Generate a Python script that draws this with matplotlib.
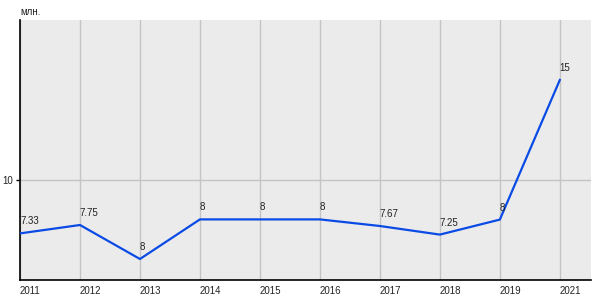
import matplotlib.pyplot as plt
import numpy as np

plt.rcParams['font.family'] = ['Liberation Sans', 'DejaVu Sans']

years = ['2011', '2012', '2013', '2014', '2015', '2016', '2017', '2018', '2019', '2021']
values = [7.33, 7.75, 6.05, 8.03, 8.03, 8.03, 7.7, 7.27, 8.02, 15]
point_labels = ['7.33', '7.75', '8', '8', '8', '8', '7.67', '7.25', '8', '15']

fig = plt.figure(figsize=(6, 3), dpi=100)
ax = fig.add_axes([20/600, 20/300, 571/600, 260/300])
ax.set_facecolor('#ebebeb')

xs = np.arange(len(years))
ax.plot(xs, values, color='#0a4be6', lw=1.6, zorder=3)
for x, v, lab in zip(xs, values, point_labels):
    ax.annotate(lab, (x, v), xytext=(0, 5), textcoords='offset points',
                ha='left', va='bottom', fontsize=7, color='#222222', zorder=4)

ax.set_xlim(0, 9.52)
ax.set_ylim(5, 18)
ax.set_xticks(xs)
ax.set_xticklabels(years, ha='left', fontsize=7, color='#222222')
ax.set_yticks([10])
ax.set_yticklabels(['10'], fontsize=7, color='#222222')
ax.tick_params(axis='x', length=0, pad=4)
ax.tick_params(axis='y', length=3, width=1, pad=2)
ax.grid(True, color='#c4c4c4', lw=1)
ax.set_axisbelow(True)

for s in ['top', 'right']:
    ax.spines[s].set_visible(False)
ax.spines['left'].set_linewidth(1.2)
ax.spines['bottom'].set_linewidth(1.2)

fig.text(20/600, 1 - 12/300, 'млн.', fontsize=7, color='#222222', va='center', ha='left')

fig.savefig('out.png', dpi=100)
